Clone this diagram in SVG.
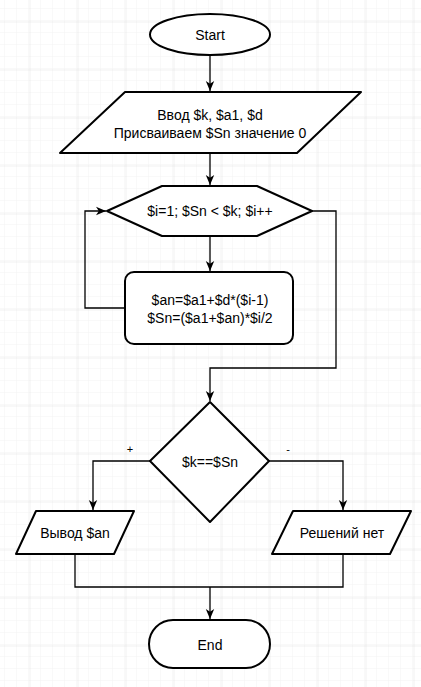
<svg xmlns="http://www.w3.org/2000/svg" width="421" height="687" viewBox="0 0 421 687">
<defs>
<pattern id="minor" x="5" y="9" width="12" height="12" patternUnits="userSpaceOnUse">
<path d="M12 0V12M0 12H12" fill="none" stroke="#f3f3f3" stroke-width="1"/>
</pattern>
<pattern id="major" x="29.5" y="21.5" width="48" height="48" patternUnits="userSpaceOnUse">
<path d="M0 0V48M0 0H48" fill="none" stroke="#e2e2e2" stroke-width="1"/>
</pattern>
<marker id="arr" viewBox="0 0 10 10" refX="10" refY="5" markerWidth="10" markerHeight="10" markerUnits="userSpaceOnUse" orient="auto">
<path d="M0,0.8 L10,5 L0,9.2 L2.8,5 z" fill="#000"/>
</marker>
<style>
.shape{fill:#fff;stroke:#000;stroke-width:2;stroke-linejoin:round}
.conn{fill:none;stroke:#000;stroke-width:1.3}
text{font-family:"Liberation Sans",Arial,sans-serif;font-size:14px;fill:#000;text-anchor:middle}
.lbl{font-size:11px}
</style>
</defs>
<rect width="421" height="687" fill="#fff"/>
<rect width="421" height="687" fill="url(#minor)"/>
<rect width="421" height="687" fill="url(#major)"/>

<g id="connectors">
<path class="conn" d="M210 55V91" marker-end="url(#arr)"/>
<path class="conn" d="M210 153V185" marker-end="url(#arr)"/>
<path class="conn" d="M210 236V271" marker-end="url(#arr)"/>
<path class="conn" d="M125 308H85V211H106" marker-end="url(#arr)"/>
<path class="conn" d="M312 211H336V368H210V401" marker-end="url(#arr)"/>
<path class="conn" d="M150 461H93V510" marker-end="url(#arr)"/>
<path class="conn" d="M269 461H343V510" marker-end="url(#arr)"/>
<path class="conn" d="M75 554V587H343V554"/>
<path class="conn" d="M210 587V619" marker-end="url(#arr)"/>
<text class="lbl" x="130" y="453">+</text>
<text class="lbl" x="288" y="453">-</text>
</g>

<g id="start">
<ellipse class="shape" cx="210" cy="34.5" rx="60" ry="20.5"/>
<text x="210" y="39.5">Start</text>
</g>

<g id="input">
<polygon class="shape" points="125,92 361,92 297,153 60,153"/>
<text x="210" y="120">Ввод $k, $a1, $d</text>
<text x="210" y="138">Присваиваем $Sn значение 0</text>
</g>

<g id="loop">
<polygon class="shape" points="107,211 162,186 257,186 312,211 257,236 162,236"/>
<text x="210" y="216">$i=1; $Sn &lt; $k; $i++</text>
</g>

<g id="calc">
<rect class="shape" x="125" y="272" width="168" height="72" rx="9"/>
<text x="210" y="305">$an=$a1+$d*($i-1)</text>
<text x="210" y="323">$Sn=($a1+$an)*$i/2</text>
</g>

<g id="cond">
<polygon class="shape" points="210,402 269,461 210,522 150,461"/>
<text x="210" y="467">$k==$Sn</text>
</g>

<g id="out-an">
<polygon class="shape" points="36,511 134,511 114,554 16,554"/>
<text x="75" y="538">Вывод $an</text>
</g>

<g id="out-none">
<polygon class="shape" points="293,511 411,511 390,554 272,554"/>
<text x="342" y="538">Решений нет</text>
</g>

<g id="end">
<rect class="shape" x="149" y="620" width="121" height="48" rx="24"/>
<text x="210" y="650">End</text>
</g>
</svg>
